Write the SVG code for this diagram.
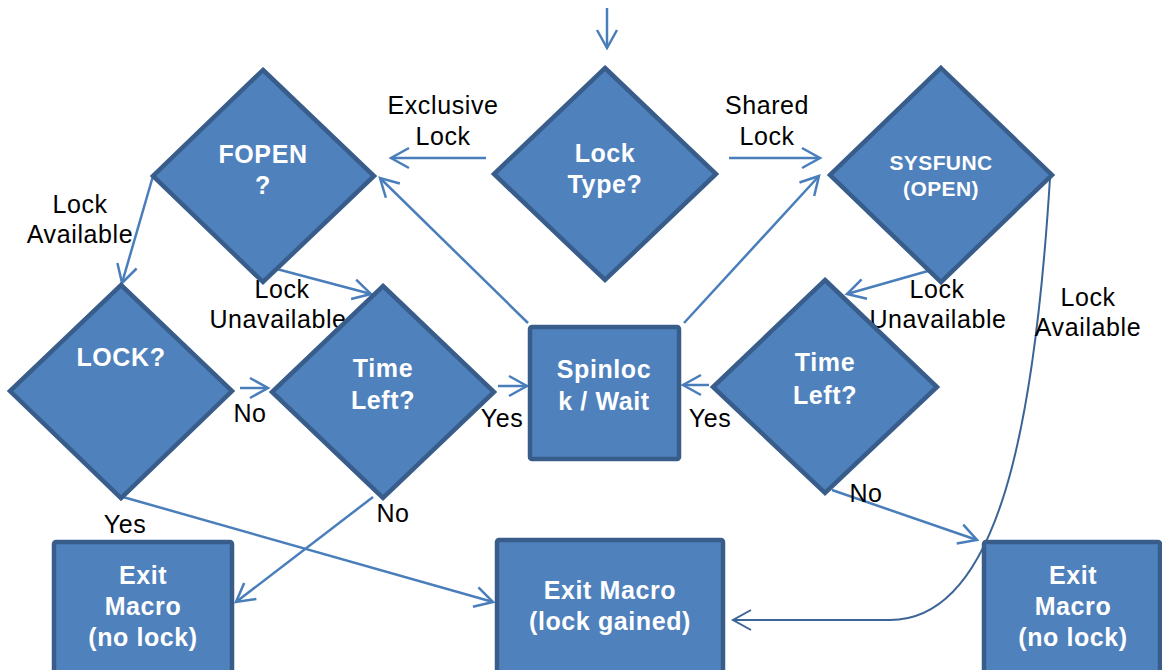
<svg xmlns="http://www.w3.org/2000/svg" width="1162" height="670" viewBox="0 0 1162 670">
<style>
.n{fill:#4F81BD;stroke:#385D8A;stroke-width:4.5;stroke-linejoin:miter}
.nt{font-family:"Liberation Sans",Arial,sans-serif;font-weight:bold;font-size:25px;letter-spacing:0.6px;fill:#FFFFFF;text-anchor:middle}
.c{fill:none;stroke:#4A7EBB;stroke-width:2.5}
.cd{fill:none;stroke:#3B6496;stroke-width:2}
.l{font-family:"Liberation Sans",Arial,sans-serif;font-size:25px;letter-spacing:0.6px;fill:#000000;text-anchor:middle}
</style>
<defs>
<marker id="a" markerUnits="userSpaceOnUse" markerWidth="26" markerHeight="26" viewBox="-22 -13 26 26" refX="0" refY="0" orient="auto">
<path d="M-18,-10 L0,0 L-18,10" fill="none" stroke="#4A7EBB" stroke-width="2.5"/>
</marker>
<marker id="ad" markerUnits="userSpaceOnUse" markerWidth="26" markerHeight="26" viewBox="-22 -13 26 26" refX="0" refY="0" orient="auto">
<path d="M-18,-10 L0,0 L-18,10" fill="none" stroke="#3B6496" stroke-width="2"/>
</marker>
</defs>
<g id="connectors">
<line class="c" x1="607" y1="8" x2="607" y2="48" marker-end="url(#a)"/>
<line class="c" x1="486" y1="158" x2="391" y2="158" marker-end="url(#a)"/>
<line class="c" x1="729" y1="158" x2="820" y2="158" marker-end="url(#a)"/>
<line class="c" x1="528" y1="323" x2="380" y2="178" marker-end="url(#a)"/>
<line class="c" x1="684" y1="323" x2="819" y2="176" marker-end="url(#a)"/>
<line class="c" x1="153" y1="176" x2="122" y2="283" marker-end="url(#a)"/>
<line class="c" x1="273" y1="268" x2="371" y2="294" marker-end="url(#a)"/>
<line class="c" x1="942" y1="267" x2="847" y2="294" marker-end="url(#a)"/>
<path class="cd" d="M1050,178 C1035,420 1000,620 890,620 L733,620" marker-end="url(#ad)"/>
<line class="c" x1="240" y1="388" x2="268" y2="388" marker-end="url(#a)"/>
<line class="c" x1="498" y1="386" x2="527" y2="386" marker-end="url(#a)"/>
<line class="c" x1="709" y1="385" x2="683" y2="385" marker-end="url(#a)"/>
<line class="c" x1="123" y1="497" x2="493" y2="602" marker-end="url(#a)"/>
<line class="c" x1="373" y1="497" x2="236" y2="602" marker-end="url(#a)"/>
<line class="c" x1="832" y1="490" x2="977" y2="540" marker-end="url(#a)"/>
<text class="l" x="443" y="114">Exclusive</text>
<text class="l" x="443" y="145">Lock</text>
<text class="l" x="767" y="114">Shared</text>
<text class="l" x="767" y="145">Lock</text>
<text class="l" x="80" y="213">Lock</text>
<text class="l" x="80" y="243">Available</text>
<text class="l" x="282" y="298">Lock</text>
<text class="l" x="278" y="328">Unavailable</text>
<text class="l" x="937" y="298">Lock</text>
<text class="l" x="938" y="328">Unavailable</text>
<text class="l" x="1088" y="306">Lock</text>
<text class="l" x="1088" y="336">Available</text>
<text class="l" x="250" y="422">No</text>
<text class="l" x="502" y="427">Yes</text>
<text class="l" x="710" y="427">Yes</text>
<text class="l" x="125" y="533">Yes</text>
<text class="l" x="393" y="522">No</text>
<text class="l" x="866" y="502">No</text>
</g>
<g id="lock-type">
<polygon class="n" points="605,68 716,174 605,280 494,174"/>
<text class="nt" x="605" y="162">Lock</text>
<text class="nt" x="605" y="193">Type?</text>
</g>
<g id="fopen">
<polygon class="n" points="263,70 374,176 263,282 153,176"/>
<text class="nt" x="263" y="163">FOPEN</text>
<text class="nt" x="263" y="194">?</text>
</g>
<g id="sysfunc">
<polygon class="n" points="941,68 1052,175 941,282 830,175"/>
<text class="nt" x="941" y="170" style="font-size:21px;letter-spacing:0.4px">SYSFUNC</text>
<text class="nt" x="941" y="196" style="font-size:21px;letter-spacing:0.4px">(OPEN)</text>
</g>
<g id="lock">
<polygon class="n" points="121,285 232,391 121,498 10,391"/>
<text class="nt" x="121" y="366">LOCK?</text>
</g>
<g id="time-left-1">
<polygon class="n" points="383,286 494,392 383,498 272,392"/>
<text class="nt" x="383" y="377">Time</text>
<text class="nt" x="383" y="409">Left?</text>
</g>
<g id="spinlock">
<rect class="n" x="530" y="327" width="149" height="132" rx="2"/>
<text class="nt" x="604" y="378">Spinloc</text>
<text class="nt" x="604" y="410">k / Wait</text>
</g>
<g id="time-left-2">
<polygon class="n" points="825,280 937,387 825,493 713,387"/>
<text class="nt" x="825" y="371">Time</text>
<text class="nt" x="825" y="404">Left?</text>
</g>
<g id="exit-no-lock-1">
<rect class="n" x="54" y="542" width="178" height="140" rx="2"/>
<text class="nt" x="143" y="584">Exit</text>
<text class="nt" x="143" y="615">Macro</text>
<text class="nt" x="143" y="646">(no lock)</text>
</g>
<g id="exit-lock-gained">
<rect class="n" x="497" y="540" width="226" height="140" rx="2"/>
<text class="nt" x="610" y="599">Exit Macro</text>
<text class="nt" x="610" y="630">(lock gained)</text>
</g>
<g id="exit-no-lock-2">
<rect class="n" x="984" y="542" width="176" height="140" rx="2"/>
<text class="nt" x="1073" y="584">Exit</text>
<text class="nt" x="1073" y="615">Macro</text>
<text class="nt" x="1073" y="646">(no lock)</text>
</g>
</svg>
